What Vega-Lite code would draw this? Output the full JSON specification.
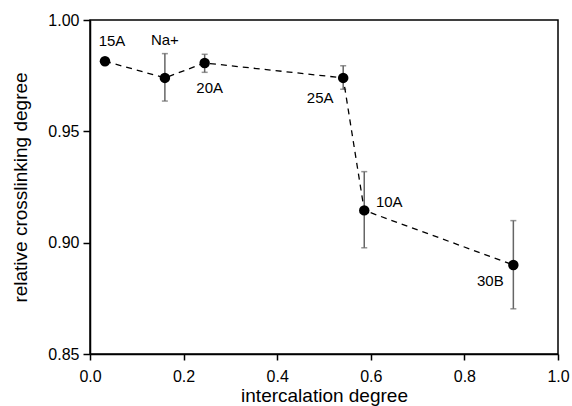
{
  "$schema": "https://vega.github.io/schema/vega-lite/v6.json",
  "autosize": "none",
  "width": 468,
  "height": 334,
  "padding": {"left": 90, "top": 20, "right": 14, "bottom": 52},
  "config": {
    "font": "Liberation Sans",
    "view": {"stroke": "black", "strokeWidth": 1.5},
    "axis": {
      "grid": false,
      "labelFlush": false,
      "labelOverlap": false,
      "domainColor": "black",
      "domainWidth": 1.5,
      "tickColor": "black",
      "tickWidth": 1.5,
      "labelFont": "Liberation Sans",
      "labelFontSize": 16,
      "labelColor": "black",
      "titleFont": "Liberation Sans",
      "titleFontSize": 19,
      "titleFontWeight": "normal",
      "titleColor": "black"
    }
  },
  "data": {
    "values": [
      {"name": "15A", "x": 0.032, "y": 0.9815, "lo": 0.9815, "hi": 0.9815},
      {"name": "Na+", "x": 0.160, "y": 0.974, "lo": 0.9636, "hi": 0.9849},
      {"name": "20A", "x": 0.245, "y": 0.9807, "lo": 0.9765, "hi": 0.9846},
      {"name": "25A", "x": 0.541, "y": 0.974, "lo": 0.9689, "hi": 0.9795},
      {"name": "10A", "x": 0.586, "y": 0.9145, "lo": 0.8977, "hi": 0.9319},
      {"name": "30B", "x": 0.9046, "y": 0.890, "lo": 0.8703, "hi": 0.9099}
    ]
  },
  "encoding": {
    "x": {"field": "x", "type": "quantitative", "scale": {"domain": [0, 1], "nice": false},
          "axis": {"title": "intercalation degree", "values": [0, 0.2, 0.4, 0.6, 0.8, 1.0], "format": ".1f", "tickSize": 6, "labelPadding": 8, "titlePadding": 2}},
    "y": {"field": "y", "type": "quantitative", "scale": {"domain": [0.85, 1.0], "nice": false, "zero": false},
          "axis": {"title": "relative crosslinking degree", "values": [0.85, 0.9, 0.95, 1.0], "format": ".2f", "tickSize": 7, "labelPadding": 4, "titlePadding": 17}}
  },
  "layer": [
    {
      "mark": {"type": "rule", "color": "#666666", "strokeWidth": 1.5},
      "encoding": {"y": {"field": "lo", "type": "quantitative"}, "y2": {"field": "hi"}}
    },
    {
      "mark": {"type": "tick", "orient": "horizontal", "color": "#666666", "size": 6, "thickness": 1.5},
      "encoding": {"y": {"field": "lo", "type": "quantitative"}}
    },
    {
      "mark": {"type": "tick", "orient": "horizontal", "color": "#666666", "size": 6, "thickness": 1.5},
      "encoding": {"y": {"field": "hi", "type": "quantitative"}}
    },
    {
      "mark": {"type": "line", "color": "black", "strokeWidth": 1.3, "strokeDash": [6, 5]},
      "encoding": {"order": {"field": "x", "type": "quantitative"}}
    },
    {
      "mark": {"type": "circle", "color": "black", "opacity": 1, "size": 110}
    },
    {
      "transform": [{"filter": "datum.name === '15A'"}],
      "mark": {"type": "text", "fontSize": 15, "color": "black", "dx": 7, "dy": -20},
      "encoding": {"text": {"field": "name"}}
    },
    {
      "transform": [{"filter": "datum.name === 'Na+'"}],
      "mark": {"type": "text", "fontSize": 15, "color": "black", "dx": 0, "dy": -38},
      "encoding": {"text": {"field": "name"}}
    },
    {
      "transform": [{"filter": "datum.name === '20A'"}],
      "mark": {"type": "text", "fontSize": 15, "color": "black", "dx": 5, "dy": 25},
      "encoding": {"text": {"field": "name"}}
    },
    {
      "transform": [{"filter": "datum.name === '25A'"}],
      "mark": {"type": "text", "fontSize": 15, "color": "black", "dx": -23, "dy": 20},
      "encoding": {"text": {"field": "name"}}
    },
    {
      "transform": [{"filter": "datum.name === '10A'"}],
      "mark": {"type": "text", "fontSize": 15, "color": "black", "dx": 25, "dy": -8},
      "encoding": {"text": {"field": "name"}}
    },
    {
      "transform": [{"filter": "datum.name === '30B'"}],
      "mark": {"type": "text", "fontSize": 15, "color": "black", "dx": -23, "dy": 16},
      "encoding": {"text": {"field": "name"}}
    }
  ]
}
